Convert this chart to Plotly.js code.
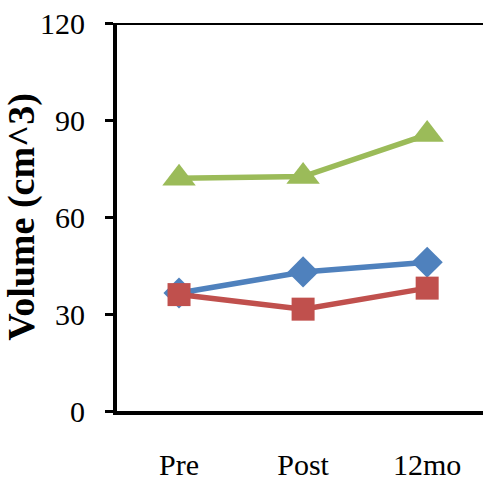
<!DOCTYPE html>
<html>
<head>
<meta charset="utf-8">
<script src="https://cdn.plot.ly/plotly-3.0.1.min.js"></script>
<style>html,body{margin:0;padding:0;background:#fff;}#chart{width:483px;height:482px;}</style>
</head>
<body>
<div id="chart"></div>
<script>
const categories = ["Pre", "Post", "12mo"];
const seriesBlue = [36.5, 43, 46];
const seriesRed = [36, 31.5, 38];
const seriesGreen = [72, 72.5, 85.5];
const yTicks = [0, 30, 60, 90, 120];

const serif = "Liberation Serif, Times New Roman, serif";
function trace(y, color, symbol, size) {
  return {
    x: categories, y: y, type: "scatter", mode: "lines+markers",
    line: {color: color, width: 5.5},
    marker: {color: color, symbol: symbol, size: size},
    showlegend: false, cliponaxis: false
  };
}
const data = [
  trace(seriesBlue, "#4F81BD", "diamond", 24),
  trace(seriesRed, "#C0504D", "square", 23),
  trace(seriesGreen, "#9BBB59", "triangle-up", 29)
];
const layout = {
  width: 483, height: 482,
  margin: {l: 117, r: 0, t: 23, b: 71, pad: 0},
  paper_bgcolor: "#fff", plot_bgcolor: "#fff",
  xaxis: {
    type: "category", range: [-0.5, 2.45],
    showline: true, linecolor: "#000", linewidth: 4,
    showgrid: false, zeroline: false, ticks: "",
    ticklabelstandoff: 24,
    tickfont: {family: serif, size: 30, color: "#000"}
  },
  yaxis: {
    range: [0, 120], tickvals: yTicks, ticktext: yTicks.map(String),
    showline: true, linecolor: "#000", linewidth: 4,
    showgrid: false, zeroline: false,
    ticks: "outside", ticklen: 8, tickwidth: 3, tickcolor: "#000",
    ticklabelstandoff: 14,
    tickfont: {family: serif, size: 30, color: "#000"},
    title: {text: "<b>Volume (cm^3)</b>", standoff: 8,
      font: {family: serif, size: 38, color: "#000"}}
  },
  shapes: [{type: "line", xref: "paper", yref: "y", x0: 0, x1: 1, y0: 120, y1: 120,
    line: {color: "#000", width: 4}}]
};
Plotly.newPlot("chart", data, layout, {displayModeBar: false, staticPlot: true});
</script>
</body>
</html>
